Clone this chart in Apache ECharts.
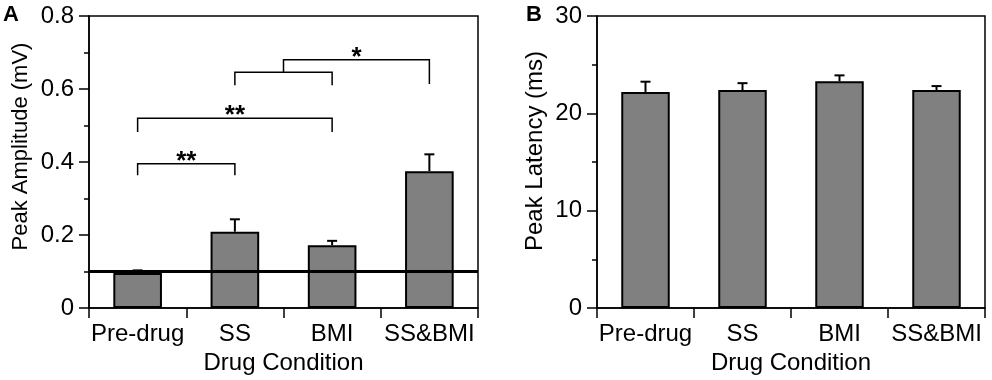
<!DOCTYPE html>
<html>
<head>
<meta charset="utf-8">
<script src="https://cdn.jsdelivr.net/npm/echarts@6/dist/echarts.min.js"></script>
<style>
  html, body { margin: 0; padding: 0; background: #fff; }
  #chart { width: 992px; height: 380px; }
</style>
</head>
<body>
<div id="chart"></div>
<script>
// categories
const conditions = ['Pre-drug', 'SS', 'BMI', 'SS&BMI'];

// panel A: peak amplitude (mV), mean and upper error bar
const ampMean = [0.096, 0.209, 0.172, 0.375];
const ampUpper = [0.103, 0.243, 0.184, 0.421];
const ampBaseline = 0.096;

// panel B: peak latency (ms)
const latMean = [22.2, 22.4, 23.3, 22.4];
const latUpper = [23.25, 23.1, 23.9, 22.8];

// significance brackets on panel A (x in category index units)
const brFrom = [0, 0, 1, 1.5];
const brTo = [1, 2, 2, 3];
const brTop = [0.395, 0.52, 0.646, 0.68];
const brLeftFoot = [0.364, 0.482, 0.61, 0.646];
const brRightFoot = [0.364, 0.482, 0.61, 0.614];
const brMark = ['**', '**', '', '*'];

const FONT = '"Liberation Sans", Arial, Helvetica, sans-serif';

const chart = echarts.init(document.getElementById('chart'));

function catAxis(gridIndex) {
  return {
    type: 'category',
    gridIndex: gridIndex,
    data: conditions,
    name: 'Drug Condition',
    nameLocation: 'middle',
    nameGap: 42,
    nameTextStyle: { fontFamily: FONT, fontSize: 24, color: '#000' },
    axisLine: { onZero: false, lineStyle: { color: '#000', width: 1.5 } },
    axisTick: { show: true, length: 10, lineStyle: { color: '#000', width: 1.5 } },
    axisLabel: { fontFamily: FONT, fontSize: 24, color: '#000', margin: 14, interval: 0 },
    splitLine: { show: false }
  };
}

// hidden linear x axis so error bars and brackets can sit between categories
function helperX(gridIndex) {
  return { type: 'value', gridIndex: gridIndex, min: -0.5, max: 3.5, show: false };
}

// the y titles sit a little above the plot centre in the original, hence the padding
function valAxis(gridIndex, max, interval, name, gap, nameSize, namePad) {
  return {
    type: 'value',
    gridIndex: gridIndex,
    min: 0,
    max: max,
    interval: interval,
    name: name,
    nameLocation: 'middle',
    nameGap: gap,
    nameTextStyle: { fontFamily: FONT, fontSize: nameSize, color: '#000', padding: [0, 0, 0, namePad] },
    axisLine: { show: true, onZero: false, lineStyle: { color: '#000', width: 1.5 } },
    axisTick: { show: true, length: 10, lineStyle: { color: '#000', width: 1.5 } },
    minorTick: { show: true, splitNumber: 2, length: 5, lineStyle: { color: '#000', width: 1.5 } },
    axisLabel: { fontFamily: FONT, fontSize: 24, color: '#000', margin: 15 },
    splitLine: { show: false },
    minorSplitLine: { show: false }
  };
}

function errorBars(xAxisIndex, yAxisIndex, mean, upper) {
  return {
    type: 'custom',
    xAxisIndex: xAxisIndex,
    yAxisIndex: yAxisIndex,
    z: 1,
    data: mean.map((m, i) => [i, m, upper[i]]),
    renderItem: function (params, api) {
      const lo = api.coord([api.value(0), api.value(1)]);
      const hi = api.coord([api.value(0), api.value(2)]);
      const hw = 5;
      return {
        type: 'group',
        children: [
          { type: 'line', shape: { x1: lo[0], y1: lo[1], x2: hi[0], y2: hi[1] }, style: { stroke: '#000', lineWidth: 2 } },
          { type: 'line', shape: { x1: hi[0] - hw, y1: hi[1], x2: hi[0] + hw, y2: hi[1] }, style: { stroke: '#000', lineWidth: 2 } }
        ]
      };
    }
  };
}

const bracketData = brFrom.map((f, i) => [f, brTo[i], brTop[i], brLeftFoot[i], brRightFoot[i], i]);

const option = {
  animation: false,
  grid: [
    { left: 89, top: 16, width: 389, height: 292, show: true, borderColor: '#000', borderWidth: 1.5, backgroundColor: 'transparent' },
    { left: 597, top: 16, width: 388, height: 292, show: true, borderColor: '#000', borderWidth: 1.5, backgroundColor: 'transparent' }
  ],
  xAxis: [catAxis(0), catAxis(1), helperX(0), helperX(1)],
  yAxis: [
    valAxis(0, 0.8, 0.2, 'Peak Amplitude (mV)', 57, 22, 31),
    valAxis(1, 30, 10, 'Peak Latency (ms)', 50, 24, 22)
  ],
  graphic: [
    { type: 'text', left: 3, top: 4, style: { text: 'A', fontFamily: FONT, fontSize: 22, fontWeight: 'bold', fill: '#000' } },
    { type: 'text', left: 526, top: 4, style: { text: 'B', fontFamily: FONT, fontSize: 22, fontWeight: 'bold', fill: '#000' } }
  ],
  series: [
    errorBars(2, 0, ampMean, ampUpper),
    {
      type: 'bar',
      xAxisIndex: 0,
      yAxisIndex: 0,
      data: ampMean,
      barWidth: '50%',
      z: 2,
      itemStyle: { color: '#808080', borderColor: '#000', borderWidth: 2 },
      markLine: {
        silent: true,
        symbol: 'none',
        label: { show: false },
        lineStyle: { color: '#000', width: 3, type: 'solid' },
        data: [{ yAxis: ampBaseline }]
      }
    },
    {
      type: 'custom',
      xAxisIndex: 2,
      yAxisIndex: 0,
      z: 3,
      data: bracketData,
      renderItem: function (params, api) {
        const x1 = api.value(0), x2 = api.value(1), top = api.value(2);
        const a = api.coord([x1, api.value(3)]);
        const b = api.coord([x1, top]);
        const c = api.coord([x2, top]);
        const d = api.coord([x2, api.value(4)]);
        const mid = api.coord([(x1 + x2) / 2, top]);
        const children = [
          { type: 'polyline', shape: { points: [a, b, c, d] }, style: { stroke: '#000', lineWidth: 1.5, fill: null } }
        ];
        const mark = brMark[api.value(5)];
        if (mark) {
          children.push({
            type: 'text',
            style: {
              text: mark, x: mid[0], y: mid[1] + 11,
              align: 'center', verticalAlign: 'bottom',
              fontFamily: FONT, fontSize: 26, fontWeight: 'bold', fill: '#000'
            }
          });
        }
        return { type: 'group', children: children };
      }
    },
    errorBars(3, 1, latMean, latUpper),
    {
      type: 'bar',
      xAxisIndex: 1,
      yAxisIndex: 1,
      data: latMean,
      barWidth: '50%',
      z: 2,
      itemStyle: { color: '#808080', borderColor: '#000', borderWidth: 2 }
    }
  ]
};

chart.setOption(option);
</script>
</body>
</html>
